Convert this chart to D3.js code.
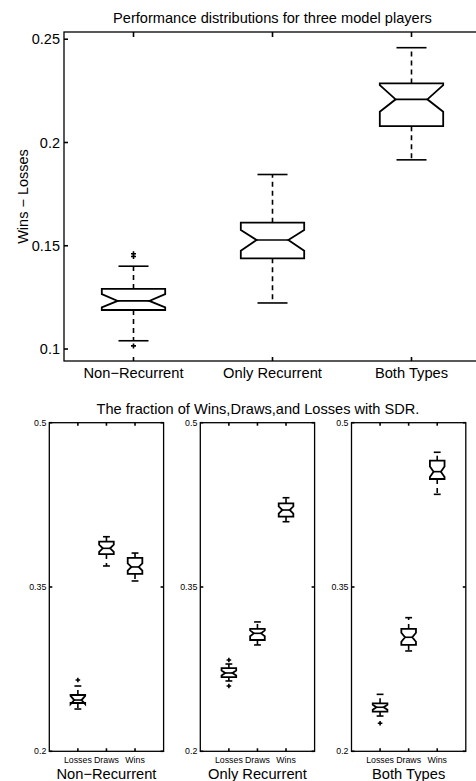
<!DOCTYPE html>
<html lang="en">
<head>
    <meta charset="UTF-8">
    <title>Performance distributions</title>
    <script src="https://cdn.jsdelivr.net/npm/d3@7"></script>
    <style>
        body { margin: 0; background: white; }
        text { font-family: "Liberation Sans", Arial, sans-serif; fill: black; }
        .frame { fill: none; stroke: black; stroke-width: 1.3; }
        .box { fill: none; stroke: black; stroke-width: 1.8; stroke-linejoin: miter; }
        .whisker { stroke: black; stroke-width: 1.6; stroke-dasharray: 5,4; }
        .cap, .median, .tick { stroke: black; stroke-width: 1.6; }
        .outlier { stroke: black; stroke-width: 1.6; }
    </style>
</head>
<body>
<script>
    const width = 476, height = 781;

    // top chart: Wins - Losses per model player
    const players = ["Non\u2212Recurrent", "Only Recurrent", "Both Types"];
    const perfLowWhisker  = [0.1040, 0.1223, 0.1916];
    const perfQ1          = [0.1189, 0.1439, 0.2079];
    const perfNotchLo     = [0.1202, 0.1476, 0.2149];
    const perfMedian      = [0.1233, 0.1528, 0.2209];
    const perfNotchHi     = [0.1266, 0.1576, 0.2278];
    const perfQ3          = [0.1291, 0.1612, 0.2286];
    const perfHighWhisker = [0.1401, 0.1845, 0.2459];
    const perfOutliers    = [[0.1461, 0.1448, 0.1015], [], []];
    const perfTicks = [0.1, 0.15, 0.2, 0.25];

    // bottom charts: fraction of Losses, Draws, Wins (one row per player)
    const outcomes = ["Losses", "Draws", "Wins"];
    const sdrLowWhisker  = [[0.2386, 0.3692, 0.3555], [0.2642, 0.2971, 0.4096], [0.2322, 0.2916, 0.4346]];
    const sdrQ1          = [[0.2441, 0.3801, 0.3619], [0.2678, 0.3016, 0.4142], [0.2362, 0.2971, 0.4486]];
    const sdrNotchLo     = [[0.2430, 0.3820, 0.3650], [0.2693, 0.3050, 0.4170], [0.2380, 0.3000, 0.4505]];
    const sdrMedian      = [[0.2468, 0.3853, 0.3683], [0.2715, 0.3077, 0.4203], [0.2402, 0.3041, 0.4553]];
    const sdrNotchHi     = [[0.2506, 0.3886, 0.3716], [0.2737, 0.3104, 0.4236], [0.2424, 0.3082, 0.4601]];
    const sdrQ3          = [[0.2514, 0.3914, 0.3765], [0.2760, 0.3117, 0.4264], [0.2438, 0.3117, 0.4653]];
    const sdrHighWhisker = [[0.2596, 0.3959, 0.3810], [0.2797, 0.3181, 0.4315], [0.2520, 0.3220, 0.4730]];
    const sdrOutliers    = [[[0.2651], [], []], [[0.2834, 0.2596], [], []], [[0.2256], [], []]];
    const sdrTicks = [0.2, 0.35, 0.5];

    const svg = d3.select("body")
                  .append("svg")
                  .attr("width", width)
                  .attr("height", height);

    // draws one notched MATLAB-style box
    function drawBox(g, x, y, i, s, halfW, capW, plusSize) {
        const cx = x(i + 1);
        const w = x(i + 1 + halfW) - cx;
        const c = x(i + 1 + capW) - cx;
        const pts = [
            [cx - w, y(s.q1[i])], [cx - w, y(s.nlo[i])], [cx - w / 2, y(s.med[i])],
            [cx - w, y(s.nhi[i])], [cx - w, y(s.q3[i])], [cx + w, y(s.q3[i])],
            [cx + w, y(s.nhi[i])], [cx + w / 2, y(s.med[i])], [cx + w, y(s.nlo[i])],
            [cx + w, y(s.q1[i])]
        ];
        g.append("path").attr("class", "box")
         .attr("d", d3.line()(pts) + "Z");
        g.append("line").attr("class", "median")
         .attr("x1", cx - w / 2).attr("x2", cx + w / 2)
         .attr("y1", y(s.med[i])).attr("y2", y(s.med[i]));
        [[s.q3[i], s.hw[i]], [s.q1[i], s.lw[i]]].forEach(([a, b]) => {
            g.append("line").attr("class", "whisker")
             .attr("x1", cx).attr("x2", cx).attr("y1", y(a)).attr("y2", y(b));
            g.append("line").attr("class", "cap")
             .attr("x1", cx - c).attr("x2", cx + c).attr("y1", y(b)).attr("y2", y(b));
        });
        s.out[i].forEach(v => {
            g.append("path").attr("class", "outlier")
             .attr("d", `M${cx - plusSize},${y(v)}H${cx + plusSize}M${cx},${y(v) - plusSize}V${y(v) + plusSize}`);
        });
    }

    // ---------- top chart ----------
    const topBox = { left: 64, right: 481, top: 32, bottom: 361 };
    const x1 = d3.scaleLinear().domain([0.5, 3.5]).range([topBox.left, topBox.right]);
    const y1 = d3.scaleLinear().domain([0.0942, 0.2535]).range([topBox.bottom, topBox.top]);
    const g1 = svg.append("g");

    g1.append("rect").attr("class", "frame")
      .attr("x", topBox.left).attr("y", topBox.top)
      .attr("width", topBox.right - topBox.left).attr("height", topBox.bottom - topBox.top);

    perfTicks.forEach(t => {
        g1.append("line").attr("class", "tick")
          .attr("x1", topBox.left).attr("x2", topBox.left + 4).attr("y1", y1(t)).attr("y2", y1(t));
        g1.append("text").attr("x", topBox.left - 4).attr("y", y1(t)).attr("dy", "0.36em")
          .attr("text-anchor", "end").style("font-size", "14.5px").text(t);
    });
    players.forEach((p, i) => {
        g1.append("line").attr("class", "tick")
          .attr("x1", x1(i + 1)).attr("x2", x1(i + 1)).attr("y1", topBox.top).attr("y2", topBox.top + 5);
        g1.append("line").attr("class", "tick")
          .attr("x1", x1(i + 1)).attr("x2", x1(i + 1)).attr("y1", topBox.bottom).attr("y2", topBox.bottom - 4);
        g1.append("text").attr("x", x1(i + 1)).attr("y", 378)
          .attr("text-anchor", "middle").style("font-size", "14.7px").text(p);
    });
    g1.append("text").attr("x", (topBox.left + topBox.right) / 2).attr("y", 23)
      .attr("text-anchor", "middle").style("font-size", "14.6px")
      .text("Performance distributions for three model players");
    g1.append("text")
      .attr("transform", `translate(28,${(topBox.top + topBox.bottom) / 2}) rotate(-90)`)
      .attr("text-anchor", "middle").style("font-size", "14.5px")
      .text("Wins \u2212 Losses");

    const perfStats = { lw: perfLowWhisker, q1: perfQ1, nlo: perfNotchLo, med: perfMedian,
                        nhi: perfNotchHi, q3: perfQ3, hw: perfHighWhisker, out: perfOutliers };
    players.forEach((p, i) => drawBox(g1, x1, y1, i, perfStats, 0.228, 0.108, 2.5));

    // ---------- bottom charts ----------
    const panelLefts = [49.3, 200.3, 351.5], panelW = 114.3;
    const pTop = 422.7, pBottom = 751.3;
    const y2 = d3.scaleLinear().domain([0.2, 0.5]).range([pBottom, pTop]);

    svg.append("text").attr("x", 258).attr("y", 414.3)
       .attr("text-anchor", "middle").style("font-size", "14.6px")
       .text("The fraction of Wins,Draws,and Losses with SDR.");

    players.forEach((p, k) => {
        const left = panelLefts[k];
        const x2 = d3.scaleLinear().domain([0, 4]).range([left, left + panelW]);
        const g = svg.append("g");
        g.append("rect").attr("class", "frame")
         .attr("x", left).attr("y", pTop).attr("width", panelW).attr("height", pBottom - pTop);

        sdrTicks.forEach(t => {
            g.append("line").attr("class", "tick")
             .attr("x1", left).attr("x2", left + 3).attr("y1", y2(t)).attr("y2", y2(t));
            g.append("line").attr("class", "tick")
             .attr("x1", left + panelW).attr("x2", left + panelW - 3).attr("y1", y2(t)).attr("y2", y2(t));
            g.append("text").attr("x", left - 3).attr("y", y2(t)).attr("dy", "0.36em")
             .attr("text-anchor", "end").style("font-size", "8.8px").text(t);
        });
        outcomes.forEach((o, i) => {
            g.append("line").attr("class", "tick")
             .attr("x1", x2(i + 1)).attr("x2", x2(i + 1)).attr("y1", pTop).attr("y2", pTop + 3);
            g.append("line").attr("class", "tick")
             .attr("x1", x2(i + 1)).attr("x2", x2(i + 1)).attr("y1", pBottom).attr("y2", pBottom - 3);
            g.append("text").attr("x", x2(i + 1)).attr("y", 762.5)
             .attr("text-anchor", "middle").style("font-size", "8.8px").text(o);
        });
        g.append("text").attr("x", left + panelW / 2).attr("y", 778.5)
         .attr("text-anchor", "middle").style("font-size", "14.7px").text(p);

        const stats = { lw: sdrLowWhisker[k], q1: sdrQ1[k], nlo: sdrNotchLo[k], med: sdrMedian[k],
                        nhi: sdrNotchHi[k], q3: sdrQ3[k], hw: sdrHighWhisker[k], out: sdrOutliers[k] };
        outcomes.forEach((o, i) => drawBox(g, x2, y2, i, stats, 0.256, 0.12, 2.3));
    });
</script>
</body>
</html>
